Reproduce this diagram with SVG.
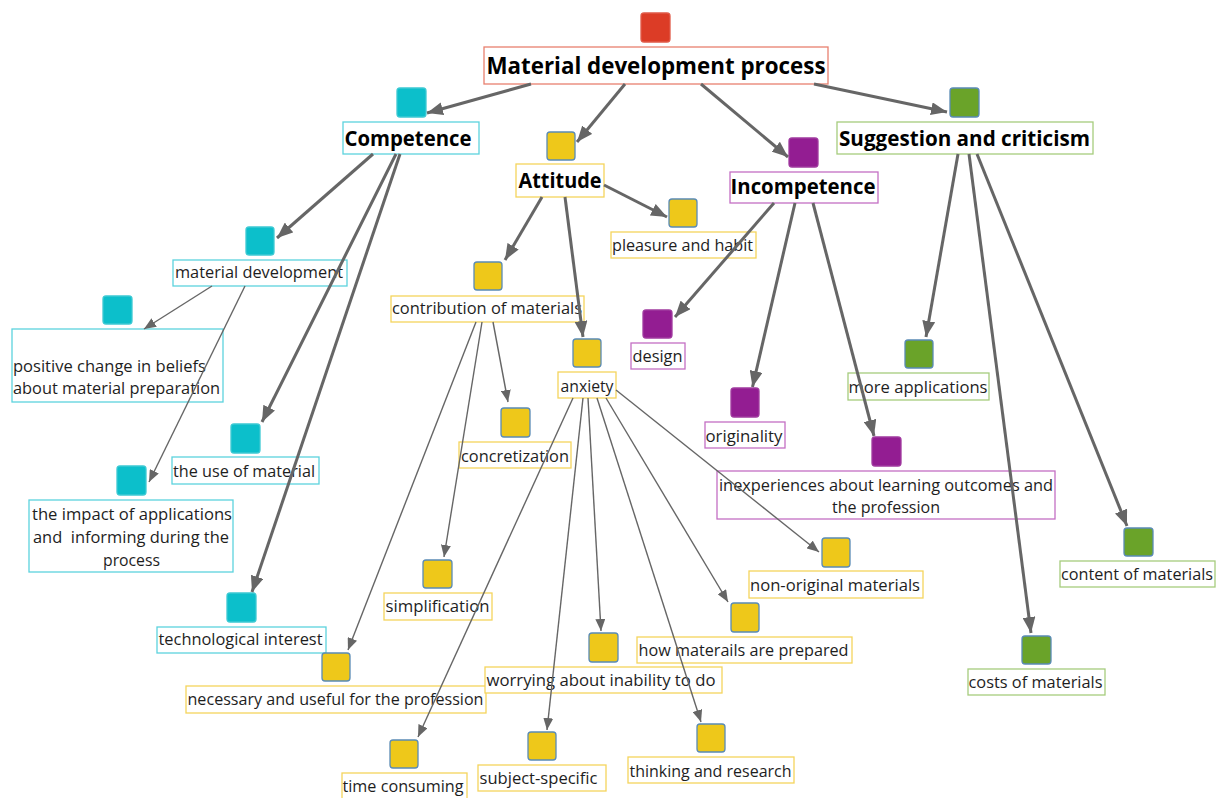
<svg xmlns="http://www.w3.org/2000/svg" width="1216" height="798" viewBox="0 0 1216 798">
<defs>
<style>
.t{font-family:"Open Sans","Noto Sans","Liberation Sans",sans-serif;font-size:16px;fill:#1e1e1e;text-anchor:middle}
.tl{text-anchor:start}
.h{font-weight:bold;font-size:21px;fill:#000}
.hr{font-size:23px}
.b{fill:#fff;stroke-width:1.3}
.sq{stroke-width:1.3}
.red .b{stroke:#e8806f}.red .sq{fill:#dc3c26;stroke:#e05a48}
.cy .b{stroke:#5cd3dd}.cy .sq{fill:#0cbfcb;stroke:#3cc9d3}
.ye .b{stroke:#f5d45c}.ye .sq{fill:#eec81a;stroke:#5a8bb5}
.pu .b{stroke:#c46fc4}.pu .sq{fill:#931d92;stroke:#a03a9f}
.gr .b{stroke:#a6cc7d}.gr .sq{fill:#6aa329;stroke:#5a8bb5}
.c path{fill:none;stroke:#666}
.k path{stroke-width:3;marker-end:url(#ak)}
.n path{stroke-width:1.4;marker-end:url(#an)}
</style>
<marker id="ak" markerUnits="userSpaceOnUse" markerWidth="17" markerHeight="13" refX="16" refY="6.5" orient="auto"><path d="M0,0 L16,6.5 L0,13 z" fill="#666"/></marker>
<marker id="an" markerUnits="userSpaceOnUse" markerWidth="13" markerHeight="10" refX="12" refY="5" orient="auto"><path d="M0,0 L12,5 L0,10 z" fill="#666"/></marker>
</defs>
<rect width="1216" height="798" fill="#fff"/>

<g id="root" class="red"><rect class="sq" x="641" y="13" width="29" height="29" rx="3"/><rect class="b" x="484" y="47" width="344" height="37"/><text class="t h hr" x="656" y="74" textLength="339" lengthAdjust="spacingAndGlyphs">Material development process</text></g>

<g id="competence" class="cy"><rect class="sq" x="397" y="88" width="29" height="29" rx="3"/><rect class="b" x="343" y="122" width="136" height="32"/><text class="t h" x="408" y="145.5" textLength="127" lengthAdjust="spacingAndGlyphs">Competence</text></g>
<g id="material-development" class="cy"><rect class="sq" x="246" y="227" width="28" height="28" rx="3"/><rect class="b" x="173" y="260" width="174" height="26"/><text class="t" x="259" y="278" textLength="168" lengthAdjust="spacingAndGlyphs">material development</text></g>
<g id="positive-change" class="cy"><rect class="sq" x="103" y="296" width="29" height="28" rx="3"/><rect class="b" x="12" y="329" width="211" height="73"/><text class="t tl" x="13" y="371.5" textLength="193" lengthAdjust="spacingAndGlyphs">positive change in beliefs</text><text class="t tl" x="13" y="394" textLength="207" lengthAdjust="spacingAndGlyphs">about material preparation</text></g>
<g id="use-of-material" class="cy"><rect class="sq" x="231" y="424" width="29" height="29" rx="3"/><rect class="b" x="172" y="457" width="147" height="27"/><text class="t" x="244" y="476.5" textLength="142" lengthAdjust="spacingAndGlyphs">the use of material</text></g>
<g id="impact" class="cy"><rect class="sq" x="117" y="466" width="29" height="29" rx="3"/><rect class="b" x="29" y="500" width="204" height="72"/><text class="t" x="132" y="520" textLength="200" lengthAdjust="spacingAndGlyphs">the impact of applications</text><text class="t" x="131" y="543" textLength="196" lengthAdjust="spacingAndGlyphs" xml:space="preserve">and  informing during the</text><text class="t" x="131.5" y="565.5" textLength="57" lengthAdjust="spacingAndGlyphs">process</text></g>
<g id="technological-interest" class="cy"><rect class="sq" x="227" y="593" width="29" height="29" rx="3"/><rect class="b" x="157" y="627" width="169" height="26"/><text class="t" x="240.5" y="645" textLength="164" lengthAdjust="spacingAndGlyphs">technological interest</text></g>

<g id="attitude" class="ye"><rect class="sq" x="547" y="132" width="28" height="28" rx="3"/><rect class="b" x="516" y="164" width="88" height="33"/><text class="t h" x="560" y="188" textLength="83" lengthAdjust="spacingAndGlyphs">Attitude</text></g>
<g id="pleasure" class="ye"><rect class="sq" x="669" y="199" width="28" height="28" rx="3"/><rect class="b" x="611" y="232" width="145" height="26"/><text class="t" x="682.5" y="250.5" textLength="141" lengthAdjust="spacingAndGlyphs">pleasure and habit</text></g>
<g id="contribution" class="ye"><rect class="sq" x="474" y="262" width="28" height="28" rx="3"/><rect class="b" x="391" y="296" width="193" height="26"/><text class="t" x="487" y="313.5" textLength="190" lengthAdjust="spacingAndGlyphs">contribution of materials</text></g>
<g id="anxiety" class="ye"><rect class="sq" x="573" y="339" width="28" height="28" rx="3"/><rect class="b" x="558" y="372" width="58" height="26"/><text class="t" x="587" y="391.5" textLength="53" lengthAdjust="spacingAndGlyphs">anxiety</text></g>
<g id="concretization" class="ye"><rect class="sq" x="501" y="408" width="29" height="29" rx="3"/><rect class="b" x="459" y="442" width="112" height="26"/><text class="t" x="515" y="461.5" textLength="108" lengthAdjust="spacingAndGlyphs">concretization</text></g>
<g id="simplification" class="ye"><rect class="sq" x="423" y="560" width="29" height="28" rx="3"/><rect class="b" x="384" y="593" width="108" height="27"/><text class="t" x="437.5" y="612" textLength="104" lengthAdjust="spacingAndGlyphs">simplification</text></g>
<g id="necessary" class="ye"><rect class="sq" x="322" y="653" width="28" height="28" rx="3"/><rect class="b" x="186" y="686" width="300" height="27"/><text class="t" x="335.5" y="704.5" textLength="296" lengthAdjust="spacingAndGlyphs">necessary and useful for the profession</text></g>
<g id="time-consuming" class="ye"><rect class="sq" x="390" y="740" width="28" height="28" rx="3"/><rect class="b" x="342" y="773" width="125" height="27"/><text class="t" x="403" y="792" textLength="121" lengthAdjust="spacingAndGlyphs">time consuming</text></g>
<g id="subject-specific" class="ye"><rect class="sq" x="528" y="732" width="28" height="28" rx="3"/><rect class="b" x="478" y="765" width="128" height="26"/><text class="t" x="538.5" y="784" textLength="118" lengthAdjust="spacingAndGlyphs">subject-specific</text></g>
<g id="worrying" class="ye"><rect class="sq" x="589" y="633" width="29" height="29" rx="3"/><rect class="b" x="485" y="667" width="237" height="26"/><text class="t" x="601" y="686" textLength="229" lengthAdjust="spacingAndGlyphs">worrying about inability to do</text></g>
<g id="thinking" class="ye"><rect class="sq" x="697" y="724" width="28" height="28" rx="3"/><rect class="b" x="628" y="757" width="166" height="26"/><text class="t" x="710.5" y="776.5" textLength="162" lengthAdjust="spacingAndGlyphs">thinking and research</text></g>
<g id="how-prepared" class="ye"><rect class="sq" x="731" y="603" width="28" height="29" rx="3"/><rect class="b" x="637" y="637" width="215" height="26"/><text class="t" x="743.5" y="656" textLength="210" lengthAdjust="spacingAndGlyphs">how materails are prepared</text></g>
<g id="non-original" class="ye"><rect class="sq" x="822" y="538" width="28" height="29" rx="3"/><rect class="b" x="749" y="571" width="174" height="27"/><text class="t" x="835" y="590.5" textLength="170" lengthAdjust="spacingAndGlyphs">non-original materials</text></g>

<g id="incompetence" class="pu"><rect class="sq" x="789" y="138" width="29" height="29" rx="3"/><rect class="b" x="730" y="172" width="148" height="31"/><text class="t h" x="803" y="194" textLength="145" lengthAdjust="spacingAndGlyphs">Incompetence</text></g>
<g id="design" class="pu"><rect class="sq" x="643" y="310" width="29" height="28" rx="3"/><rect class="b" x="631" y="343" width="54" height="26"/><text class="t" x="657.5" y="361.5" textLength="50" lengthAdjust="spacingAndGlyphs">design</text></g>
<g id="originality" class="pu"><rect class="sq" x="731" y="388" width="28" height="29" rx="3"/><rect class="b" x="705" y="422" width="80" height="26"/><text class="t" x="744" y="441.5" textLength="77" lengthAdjust="spacingAndGlyphs">originality</text></g>
<g id="inexperiences" class="pu"><rect class="sq" x="872" y="437" width="29" height="29" rx="3"/><rect class="b" x="717" y="471" width="338" height="48"/><text class="t" x="886" y="490.5" textLength="334" lengthAdjust="spacingAndGlyphs">inexperiences about learning outcomes and</text><text class="t" x="886" y="513" textLength="108" lengthAdjust="spacingAndGlyphs">the profession</text></g>

<g id="suggestion" class="gr"><rect class="sq" x="950" y="88" width="29" height="29" rx="3"/><rect class="b" x="837" y="122" width="256" height="32"/><text class="t h" x="964.5" y="145.5" textLength="251" lengthAdjust="spacingAndGlyphs">Suggestion and criticism</text></g>
<g id="more-applications" class="gr"><rect class="sq" x="905" y="340" width="28" height="28" rx="3"/><rect class="b" x="848" y="373" width="141" height="27"/><text class="t" x="918" y="393" textLength="139" lengthAdjust="spacingAndGlyphs">more applications</text></g>
<g id="content-of-materials" class="gr"><rect class="sq" x="1124" y="528" width="29" height="28" rx="3"/><rect class="b" x="1060" y="561" width="155" height="26"/><text class="t" x="1137" y="580" textLength="152" lengthAdjust="spacingAndGlyphs">content of materials</text></g>
<g id="costs-of-materials" class="gr"><rect class="sq" x="1022" y="636" width="29" height="28" rx="3"/><rect class="b" x="968" y="669" width="137" height="26"/><text class="t" x="1035.5" y="688" textLength="134" lengthAdjust="spacingAndGlyphs">costs of materials</text></g>

<g id="connectors" class="c">
<g class="k">
<path d="M531,84 L427,113"/>
<path d="M625,84 L577,142"/>
<path d="M701,84 L788,157"/>
<path d="M814,84 L947,112"/>
<path d="M373,154 L277,238"/>
<path d="M396,154 L262,422"/>
<path d="M400,154 L252,592"/>
<path d="M542,197 L505,260"/>
<path d="M565,197 L583,337"/>
<path d="M604,185 L667,217"/>
<path d="M774,203 L675,317"/>
<path d="M795,203 L752.5,387"/>
<path d="M813,203 L874,436"/>
<path d="M958,154 L926,337"/>
<path d="M969,154 L1031,633"/>
<path d="M977,154 L1127,526"/>
</g>
<g class="n">
<path d="M212,286 L144,329"/>
<path d="M245,286 L149,482"/>
<path d="M493,322 L508,402"/>
<path d="M482,322 L444,557"/>
<path d="M476,322 L348,650"/>
<path d="M573,398 L418,737"/>
<path d="M583,398 L547,730"/>
<path d="M588,398 L601,631"/>
<path d="M597,398 L701,722"/>
<path d="M606,398 L728,602"/>
<path d="M616,390 L819,552"/>
</g>
</g>
</svg>
